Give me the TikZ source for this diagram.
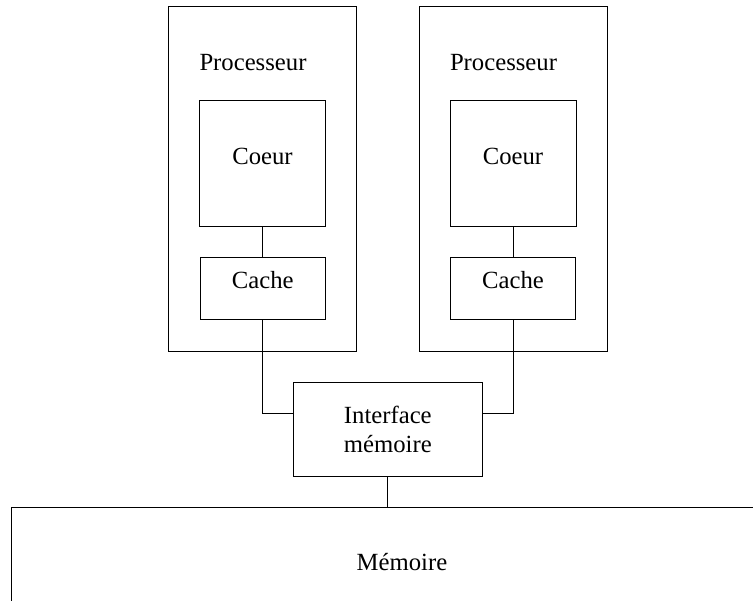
\documentclass[tikz,border=0pt]{standalone}
\usepackage{fontspec}
\setmainfont{Liberation Serif}
\begin{document}
\begin{tikzpicture}[x=0.5pt,y=-0.5pt,
  box/.style={draw,line width=0.5pt,inner sep=0pt,outer sep=0pt},
  lbl/.style={inner sep=0pt,anchor=base,font=\fontsize{12.35}{14.7}\selectfont},
  wire/.style={line width=0.5pt}]
\useasboundingbox (0,0) rectangle (753,600);
% processors
\node[box,minimum width=94.2pt,minimum height=172.3pt] (procL) at (262.5,179) {};
\node[box,minimum width=94.2pt,minimum height=172.3pt] (procR) at (513.2,179) {};
\node[lbl] (procLt) at (253,70) {Processeur};
\node[lbl] (procRt) at (503.5,70) {Processeur};
% cores
\node[box,minimum width=62.8pt,minimum height=63.2pt] (coreL) at (262.7,163.2) {};
\node[box,minimum width=62.8pt,minimum height=63.2pt] (coreR) at (513.2,163.3) {};
\node[lbl] (coreLt) at (262.5,164.3) {Coeur};
\node[lbl] (coreRt) at (513,164.3) {Coeur};
% caches
\node[box,minimum width=62.7pt,minimum height=31pt] (cacheL) at (262.7,288.5) {};
\node[box,minimum width=62.7pt,minimum height=31pt] (cacheR) at (513.2,288.6) {};
\node[lbl] (cacheLt) at (262.7,288.3) {Cache};
\node[lbl] (cacheRt) at (513,288.3) {Cache};
% interface
\node[box,minimum width=94.5pt,minimum height=47pt,align=center,
  font=\fontsize{12.35}{14.7}\selectfont] (iface) at (387.8,429.7) {Interface\\mémoire};
% memory
\node[box,minimum width=393.3pt,minimum height=57.5pt] (mem) at (405,565) {};
\node[lbl] (memt) at (402,570) {Mémoire};
% connectors
\coordinate (busy) at (0,413.3);
\draw[wire] (coreL.south) -- (cacheL.north);
\draw[wire] (coreR.south) -- (cacheR.north);
\draw[wire] (cacheL.south) |- (iface.west |- busy);
\draw[wire] (cacheR.south) |- (iface.east |- busy);
\draw[wire] (iface.south) -- (iface.south |- mem.north);
\end{tikzpicture}
\end{document}
